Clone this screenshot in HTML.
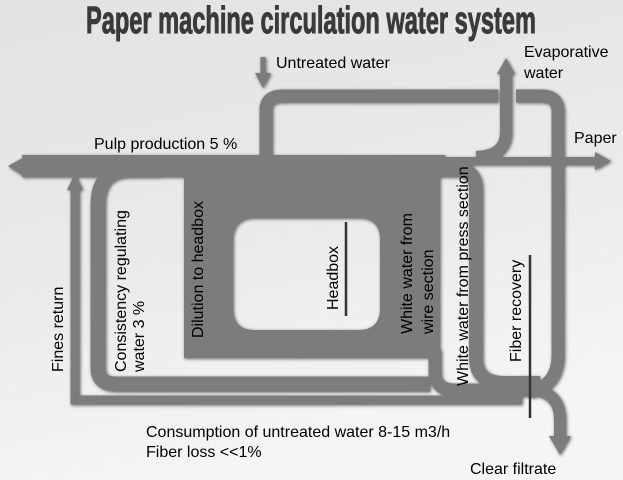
<!DOCTYPE html>
<html><head><meta charset="utf-8"><style>
html,body{margin:0;padding:0;width:623px;height:480px;overflow:hidden;background:#ececec}
svg{display:block}
text{font-family:"Liberation Sans",Arial,sans-serif;font-size:16px;fill:#000}
</style></head><body>
<svg width="623" height="480" viewBox="0 0 623 480" xmlns="http://www.w3.org/2000/svg">
<defs>
<linearGradient id="bg" x1="0" y1="0" x2="0.3" y2="1">
<stop offset="0" stop-color="#e2e2e2"/><stop offset="0.6" stop-color="#ebebeb"/><stop offset="1" stop-color="#f5f5f5"/>
</linearGradient>
<filter id="sh" x="-10%" y="-10%" width="120%" height="120%">
<feGaussianBlur in="SourceAlpha" stdDeviation="1.6"/><feOffset dx="1" dy="1" result="b"/>
<feFlood flood-color="#222" flood-opacity="0.7"/><feComposite in2="b" operator="in"/>
<feMerge><feMergeNode/><feMergeNode in="SourceGraphic"/></feMerge>
</filter>
</defs>
<rect width="623" height="480" fill="url(#bg)"/>
<text x="86" y="33" textLength="450" lengthAdjust="spacingAndGlyphs" style="font-size:38px;font-weight:bold;fill:#3a3a3a;stroke:#3a3a3a;stroke-width:1">Paper machine circulation water system</text>

<g filter="url(#sh)" fill="none" stroke="#7b7b7b" stroke-linecap="butt">
<path d="M75 182 V400 H522" stroke-width="9"/>
<path d="M160 170 H130 Q98 170 98 205 V368 Q98 384 116 384 H430" stroke-width="15"/>
<path d="M435 350 V372 Q435 390 455 390 H535" stroke-width="13"/>
<path d="M425 170 H458 Q476 170 476 190 V358 Q476 383 505 383 H540" stroke-width="14"/>
<path d="M516 96 H542 Q558 96 558 112 V355 Q558 385 530 392" stroke-width="13"/>
<path d="M525 389 Q560 389 560 420 V438" stroke-width="12"/>
<path d="M266 158 V110 Q266 96 282 96 H498" stroke-width="13"/>
<path d="M506 72 V132 Q506 156 476 157" stroke-width="12"/>
<path d="M263 57 V76" stroke-width="5"/>
<path d="M430 161 H598" stroke-width="8"/>
<path d="M22 166 H445" stroke-width="22"/>
<path fill="#7b7b7b" stroke="none" fill-rule="evenodd" d="M184 160 H420 Q440 160 440 182 V358 H184 Z M255 218 H358 Q380 218 380 240 V308 Q380 330 358 330 H255 Q233 330 233 308 V240 Q233 218 255 218 Z"/>
<polygon points="26,156 8,166 26,178" fill="#7b7b7b" stroke="none"/>
<polygon points="67,190 75,173 83,190" fill="#7b7b7b" stroke="none"/>
<polygon points="255,73 263,88 271,73" fill="#7b7b7b" stroke="none"/>
<polygon points="497,74 506,58 515,74" fill="#7b7b7b" stroke="none"/>
<polygon points="595,152 611,161 595,170" fill="#7b7b7b" stroke="none"/>
<polygon points="549,436 560,455 571,436" fill="#7b7b7b" stroke="none"/>
</g>
<line x1="346" y1="222" x2="346" y2="316" stroke="#333" stroke-width="2.5"/>
<line x1="530" y1="255" x2="530" y2="418" stroke="#333" stroke-width="2.5"/>

<text x="276" y="68">Untreated water</text>
<text x="524" y="57">Evaporative</text>
<text x="524" y="78">water</text>
<text x="574" y="143">Paper</text>
<text x="94" y="149">Pulp production 5 %</text>
<text x="146" y="437">Consumption of untreated water 8-15 m3/h</text>
<text x="146" y="457">Fiber loss &lt;&lt;1%</text>
<text x="470" y="474">Clear filtrate</text>
<text transform="translate(63,372) rotate(-90)">Fines return</text>
<text transform="translate(126,372) rotate(-90)">Consistency regulating</text>
<text transform="translate(144,372) rotate(-90)">water 3 %</text>
<text transform="translate(203,338) rotate(-90)">Dilution to headbox</text>
<text transform="translate(338,310) rotate(-90)">Headbox</text>
<text transform="translate(412,334) rotate(-90)">White water from</text>
<text transform="translate(433,334) rotate(-90)">wire section</text>
<text transform="translate(468,386) rotate(-90)">White water from press section</text>
<text transform="translate(521,362) rotate(-90)">Fiber recovery</text>
</svg>
</body></html>
